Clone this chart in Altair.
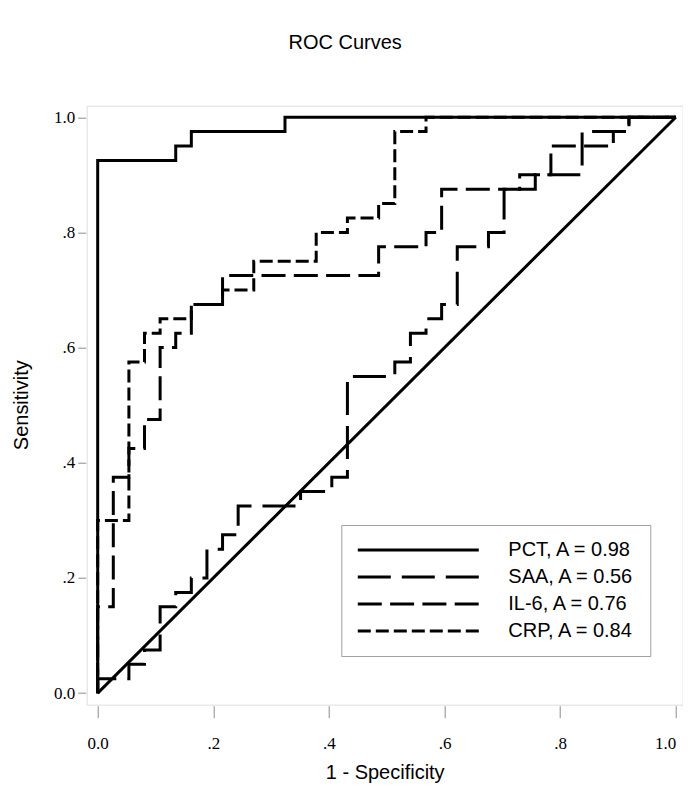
import altair as alt
import pandas as pd

# ---- data ----
series_names = ["PCT", "SAA", "IL-6", "CRP"]
auc_values = ["0.98", "0.56", "0.76", "0.84"]

# ROC jump points (step-after): fpr where the curve rises, tpr it rises to
pct_fpr = [0.0, 0.0, 0.135, 0.162, 0.324, 1.0]
pct_tpr = [0.0, 0.925, 0.95, 0.975, 1.0, 1.0]

saa_fpr = [0.0, 0.0, 0.054, 0.081, 0.108, 0.135, 0.162, 0.189, 0.216, 0.243,
           0.351, 0.405, 0.432, 0.514, 0.541, 0.568, 0.595, 0.622, 0.676,
           0.703, 0.757, 0.838, 0.919, 1.0]
saa_tpr = [0.0, 0.025, 0.05, 0.075, 0.15, 0.175, 0.2, 0.25, 0.275, 0.325,
           0.35, 0.375, 0.55, 0.575, 0.625, 0.65, 0.675, 0.775, 0.8,
           0.875, 0.9, 0.975, 1.0, 1.0]

il6_fpr = [0.0, 0.0, 0.027, 0.054, 0.081, 0.108, 0.135, 0.162, 0.216, 0.486,
           0.568, 0.595, 0.730, 0.784, 0.892, 0.919, 1.0]
il6_tpr = [0.0, 0.15, 0.375, 0.425, 0.475, 0.6, 0.625, 0.675, 0.725, 0.775,
           0.8, 0.875, 0.9, 0.95, 0.975, 1.0, 1.0]

crp_fpr = [0.0, 0.0, 0.054, 0.081, 0.108, 0.162, 0.216, 0.270, 0.378, 0.432,
           0.486, 0.514, 0.568, 1.0]
crp_tpr = [0.0, 0.3, 0.575, 0.625, 0.65, 0.675, 0.7, 0.75, 0.8, 0.825,
           0.85, 0.975, 1.0, 1.0]

ref_fpr = [0.0, 1.0]
ref_tpr = [0.0, 1.0]

tick_values = [0.0, 0.2, 0.4, 0.6, 0.8, 1.0]
tick_labels = ["0.0", ".2", ".4", ".6", ".8", "1.0"]

# ---- build tables ----
labels = [f"{n}, A = {a}" for n, a in zip(series_names, auc_values)]
curve_data = [(pct_fpr, pct_tpr), (saa_fpr, saa_tpr), (il6_fpr, il6_tpr), (crp_fpr, crp_tpr)]
rows = []
for lab, (fx, ty) in zip(labels, curve_data):
    for i, (a, b) in enumerate(zip(fx, ty)):
        rows.append({"label": lab, "fpr": a, "tpr": b, "idx": i})
df = pd.DataFrame(rows)
ref_df = pd.DataFrame({"fpr": ref_fpr, "tpr": ref_tpr, "idx": list(range(len(ref_fpr)))})

dash_range = [[1, 0], [33, 11], [24, 8.3], [13, 5]]

label_expr = " : ".join(
    f"abs(datum.value - {v}) < 1e-6 ? '{l}'" for v, l in zip(tick_values, tick_labels)
) + " : ''"

x_scale = alt.Scale(domain=[-0.019, 1.012], nice=False, zero=False)
y_scale = alt.Scale(domain=[-0.02, 1.02], nice=False, zero=False)

common_axis = dict(
    values=tick_values, labelExpr=label_expr, grid=False, domain=False,
    tickColor="#8c8c8c", labelFont="Liberation Serif", labelFontSize=17,
    labelColor="black", titleFont="Liberation Sans", titleFontSize=20,
    titleFontWeight="normal", titleColor="black", offset=1,
)

x_axis = alt.Axis(title="1 - Specificity", tickSize=12, labelPadding=18,
                  labelFlush=8, titleY=67, titleBaseline="middle", **common_axis)
y_axis = alt.Axis(title="Sensitivity", tickSize=8, labelPadding=3,
                  titleX=-64, titleY=299, titleAngle=270, titleAlign="center",
                  titleBaseline="middle", **common_axis)

curves = alt.Chart(df).mark_line(
    interpolate="step-after", strokeWidth=3, color="black"
).encode(
    x=alt.X("fpr:Q", scale=x_scale, axis=x_axis),
    y=alt.Y("tpr:Q", scale=y_scale, axis=y_axis),
    strokeDash=alt.StrokeDash(
        "label:N",
        scale=alt.Scale(domain=labels, range=dash_range),
        legend=alt.Legend(
            title=None, orient="none", legendX=254.6, legendY=419.3,
            symbolType="stroke", symbolSize=14641, symbolStrokeWidth=3,
            symbolStrokeColor="black", clipHeight=20,
            labelFont="Liberation Sans", labelFontSize=20, labelColor="black",
            labelOffset=28, labelLimit=400, rowPadding=7, padding=15,
            strokeColor="#a0a0a0", fillColor="white",
        ),
    ),
    order="idx:Q",
)

ref = alt.Chart(ref_df).mark_line(strokeWidth=3, color="black").encode(
    x=alt.X("fpr:Q"), y=alt.Y("tpr:Q"), order="idx:Q"
)

chart = alt.layer(ref, curves).properties(
    width=596, height=599,
    autosize=alt.AutoSizeParams(type="none"),
    padding={"left": 78.7, "top": 97.7, "right": 0.3, "bottom": 80},
    title=alt.TitleParams("ROC Curves", font="Liberation Sans", fontSize=20,
                          fontWeight="normal", color="black", anchor="middle",
                          dx=-39.5, offset=53),
).configure_view(stroke="#a0a0a0", strokeWidth=1).configure(background="white")

chart.save("out.html", embed_options={"renderer": "svg", "actions": False})
